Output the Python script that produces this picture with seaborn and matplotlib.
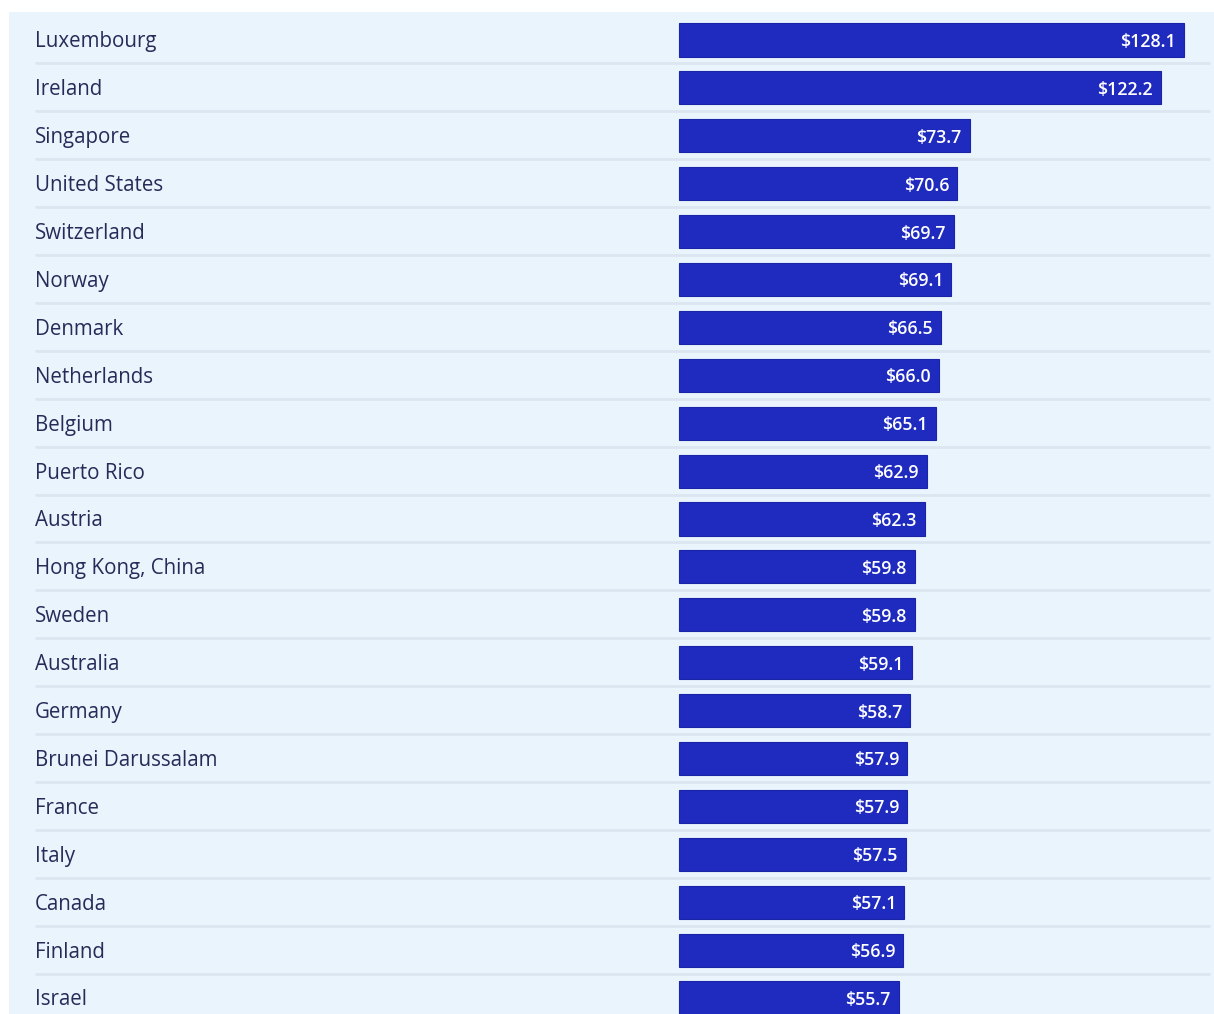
import matplotlib
matplotlib.use("Agg")
import matplotlib.pyplot as plt
import matplotlib.transforms as mtransforms
import pandas as pd
import seaborn as sns

countries = [
    "Luxembourg", "Ireland", "Singapore", "United States", "Switzerland",
    "Norway", "Denmark", "Netherlands", "Belgium", "Puerto Rico", "Austria",
    "Hong Kong, China", "Sweden", "Australia", "Germany", "Brunei Darussalam",
    "France", "Italy", "Canada", "Finland", "Israel",
]
gdp_per_hour = [
    128.1, 122.2, 73.7, 70.6, 69.7, 69.1, 66.5, 66.0, 65.1, 62.9, 62.3,
    59.8, 59.8, 59.1, 58.7, 57.9, 57.9, 57.5, 57.1, 56.9, 55.7,
]

df = pd.DataFrame({"country": countries, "value": gdp_per_hour})

sns.set_theme(style="white")
plt.rcParams["font.family"] = ["Open Sans", "DejaVu Sans"]

W, H = 1214, 1014
fig = plt.figure(figsize=(W / 100, H / 100), dpi=100)
fig.patch.set_facecolor("white")

# panel spans from (9, 12) px to the right/bottom edges
left_px, top_px = 9, 12
ax = fig.add_axes([left_px / W, 0, (W - left_px) / W, (H - top_px) / H])
ax.set_facecolor("#EAF4FD")

sns.barplot(
    data=df, y="country", x="value", orient="h", ax=ax,
    color="#1F2BBF", saturation=1, width=0.69,
    edgecolor="#1A24A6", linewidth=0.8,
)

# zero of the value axis sits at 679 px; 3.942 px per unit
px_per_unit = 3.942
zero_px = 679
ax.set_xlim(-(zero_px - left_px) / px_per_unit, (W - zero_px) / px_per_unit)
row_px = 47.9
ax.set_ylim(len(countries) - 1 + 16 / row_px, -28 / row_px)

for s in ax.spines.values():
    s.set_visible(False)
ax.set_xticks([])
ax.set_yticks([])
ax.set_xlabel("")
ax.set_ylabel("")

# row separators
sep_x0 = (35 - left_px) / (W - left_px)
sep_x1 = (1210 - left_px) / (W - left_px)
trans = mtransforms.blended_transform_factory(ax.transAxes, ax.transData)
for i in range(len(countries) - 1):
    ax.plot([sep_x0, sep_x1], [i + 0.49, i + 0.49], transform=trans,
            color="#DCE6F0", lw=2, solid_capstyle="butt", zorder=0.5)

# country labels
for i, name in enumerate(countries):
    ax.text(sep_x0, i + 0.04, name, transform=trans, ha="left", va="center",
            fontsize=14.8, color="#282A58")

# value labels inside bar ends
pad = 8 / px_per_unit
for i, v in enumerate(gdp_per_hour):
    ax.text(v - pad, i + 0.04, f"${v:.1f}", ha="right", va="center",
            fontsize=12.8, color="white", fontweight="semibold")

fig.savefig("out.png", dpi=100, facecolor=fig.get_facecolor())
